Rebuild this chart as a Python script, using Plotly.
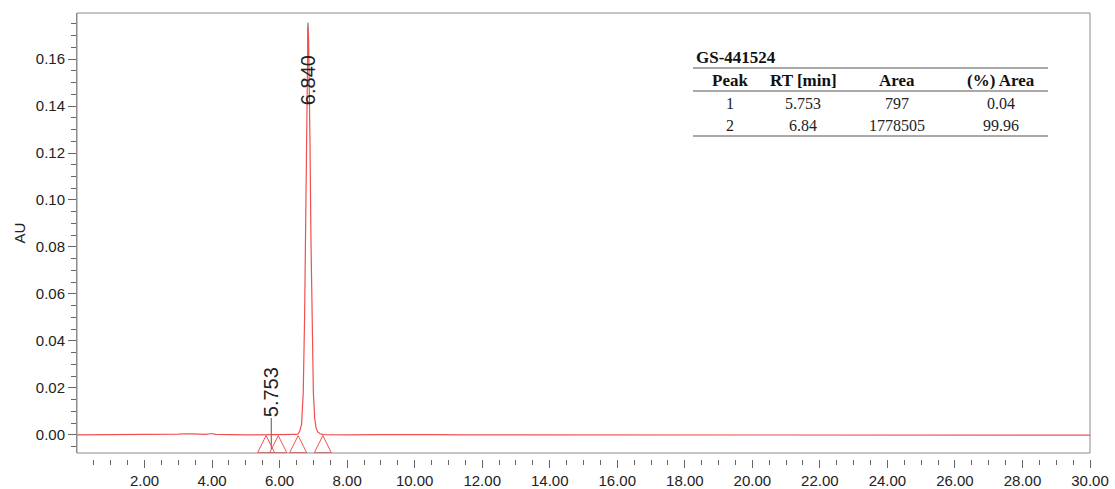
import plotly.graph_objects as go

# ---------------- data ----------------
TIME_MIN = [0.0, 0.5, 1.0, 1.5, 2.0, 2.3, 2.5, 2.7, 3.0, 3.2, 3.3, 3.4, 3.6, 3.8,
            3.95, 4.0, 4.1, 4.3, 4.6, 5.0, 5.3, 5.6, 5.70, 5.753, 5.80, 6.0,
            6.30, 6.40, 6.50, 6.55, 6.60, 6.65, 6.70, 6.74, 6.77, 6.80, 6.82, 6.84,
            6.86, 6.88, 6.90, 6.93, 6.96, 7.00, 7.04, 7.08, 7.13, 7.20, 7.30, 7.50,
            8.0, 9.0, 9.6, 10.0, 10.6, 11.5, 13.0, 15.0, 18.0, 21.0, 24.0, 27.0, 30.0]
SIGNAL_AU = [0.0, 0.0, 0.0, 0.0, 0.0, 0.0001, 0.0003, 0.0002, 0.0003, 0.0005, 0.0006,
             0.0004, 0.0003, 0.0002, 0.0005, 0.0006, 0.0002, 0.0001, 0.0, 0.0, 0.0, 0.0,
             0.00005, 0.0002, 0.00005, 0.0,
             0.0, 0.0, 0.0002, 0.0005, 0.0018, 0.0045, 0.018, 0.050, 0.095, 0.142, 0.165, 0.174,
             0.168, 0.150, 0.124, 0.082, 0.046, 0.018, 0.007, 0.003, 0.0013, 0.0005, 0.0001, 0.0,
             0.0, 0.0001, 0.0002, 0.0001, 0.0001, 0.0, 0.0, 0.0, -0.0001, -0.0001, -0.0001, -0.0001, -0.0001]

PEAK_RT = [5.753, 6.840]
PEAK_LABELS = ["5.753", "6.840"]
PEAK_LABEL_Y = [0.0183, 0.151]
PEAK_LINE_Y0 = [-0.0060, 0.163]
PEAK_LINE_Y1 = [0.0072, 0.1755]

BASELINE_MARK_T = [5.60, 5.96, 6.55, 7.28]
BASELINE_MARK_Y = [-0.0003, -0.0003, -0.0003, -0.0003]

X_TICKS = [2, 4, 6, 8, 10, 12, 14, 16, 18, 20, 22, 24, 26, 28, 30]
X_TICK_TEXT = ["2.00", "4.00", "6.00", "8.00", "10.00", "12.00", "14.00", "16.00",
               "18.00", "20.00", "22.00", "24.00", "26.00", "28.00", "30.00"]

TABLE_TITLE = "GS-441524"
TABLE_HEADERS = ["Peak", "RT [min]", "Area", "(%) Area"]
TABLE_ROWS = [["1", "5.753", "797", "0.04"],
              ["2", "6.84", "1778505", "99.96"]]

# ---------------- layout geometry ----------------
W, H = 1115, 489
ML, MR, MT, MB = 77, 25, 13, 30
PW, PH = W - ML - MR, H - MT - MB
AXIS_BOTTOM_PX = 453


def px_x(x):
    return (x - ML) / PW


def px_y(y):
    return (H - MB - y) / PH


RED = "rgb(240,80,80)"
GRAY = "#8c8c8c"
TXT = "#222222"
SANS = "Liberation Sans, Arial, sans-serif"
SERIF = "Liberation Serif, Times New Roman, serif"

fig = go.Figure()

fig.add_trace(go.Scatter(x=TIME_MIN, y=SIGNAL_AU, mode="lines",
                         line=dict(color=RED, width=1.2), hoverinfo="x+y",
                         showlegend=False))

fig.add_trace(go.Scatter(x=BASELINE_MARK_T, y=BASELINE_MARK_Y, mode="markers",
                         marker=dict(symbol="arrow-up-open", size=17,
                                     color=RED, line=dict(color=RED, width=1)),
                         showlegend=False, hoverinfo="skip"))

# peak label connector lines and labels
for rt, lab, ly, y0, y1 in zip(PEAK_RT, PEAK_LABELS, PEAK_LABEL_Y, PEAK_LINE_Y0, PEAK_LINE_Y1):
    fig.add_shape(type="line", x0=rt, x1=rt, y0=y0, y1=y1, xref="x", yref="y",
                  line=dict(color="#555555", width=1), layer="below")
    fig.add_annotation(x=rt, y=ly, xref="x", yref="y", text=lab, textangle=-90,
                       showarrow=False, font=dict(family=SANS, size=20, color=TXT),
                       bgcolor="rgba(255,255,255,0)")

# frame
fig.add_shape(type="rect", xref="x domain", yref="y domain", x0=0, x1=1, y0=0, y1=1,
              line=dict(color=GRAY, width=1), layer="above")

# ---------------- table ----------------
col_x = [730, 803, 897, 1001]
fig.add_annotation(x=px_x(694), y=px_y(58), xref="paper", yref="paper", xanchor="left",
                   yanchor="middle", text="<b>%s</b>" % TABLE_TITLE, showarrow=False,
                   font=dict(family=SERIF, size=17, color="#111111"))
for cx, h in zip(col_x, TABLE_HEADERS):
    fig.add_annotation(x=px_x(cx), y=px_y(80), xref="paper", yref="paper",
                       xanchor="center", yanchor="middle", text="<b>%s</b>" % h,
                       showarrow=False, font=dict(family=SERIF, size=17, color="#111111"))
for ry, row in zip([103, 126], TABLE_ROWS):
    for cx, v in zip(col_x, row):
        fig.add_annotation(x=px_x(cx), y=px_y(ry), xref="paper", yref="paper",
                           xanchor="center", yanchor="middle", text=v, showarrow=False,
                           font=dict(family=SERIF, size=16, color="#222222"))
for ly in [68, 91, 136]:
    fig.add_shape(type="line", xref="paper", yref="paper", x0=px_x(693), x1=px_x(1048),
                  y0=px_y(ly), y1=px_y(ly), line=dict(color="#555555", width=1.2))

# ---------------- axes ----------------
minor_x = [v / 2 for v in range(1, 61) if v % 4 != 0]

fig.update_layout(
    width=W, height=H,
    margin=dict(l=ML, r=MR, t=MT, b=MB, autoexpand=False),
    paper_bgcolor="white", plot_bgcolor="white",
    showlegend=False,
    xaxis=dict(range=[0, 30], anchor="free", position=0, showline=False,
               showgrid=False, zeroline=False, automargin=False,
               tickmode="array", tickvals=X_TICKS, ticktext=X_TICK_TEXT,
               ticks="outside", ticklen=8, tickcolor="#666666", tickwidth=1,
               tickfont=dict(family=SANS, size=15, color=TXT),
               minor=dict(tickmode="array", tickvals=minor_x, ticks="outside",
                          ticklen=5, tickcolor="#666666", tickwidth=1, showgrid=False)),
    yaxis=dict(range=[-0.0077, 0.1796], domain=[px_y(AXIS_BOTTOM_PX), 1],
               showline=True, linecolor=GRAY, linewidth=1, automargin=False,
               showgrid=False, zeroline=False,
               tick0=0, dtick=0.02, tickformat=".2f",
               ticks="outside", ticklen=8, tickcolor="#666666", tickwidth=1,
               tickfont=dict(family=SANS, size=15, color=TXT),
               minor=dict(dtick=0.005, tick0=0, ticks="outside", ticklen=5,
                          tickcolor="#666666", tickwidth=1, showgrid=False),
               title=dict(text="AU", font=dict(family=SANS, size=15, color=TXT),
                          standoff=6)),
)

fig.write_html("out.html",
               config={"displayModeBar": False},
               post_script="document.body.style.margin='0';document.body.style.padding='0';")
